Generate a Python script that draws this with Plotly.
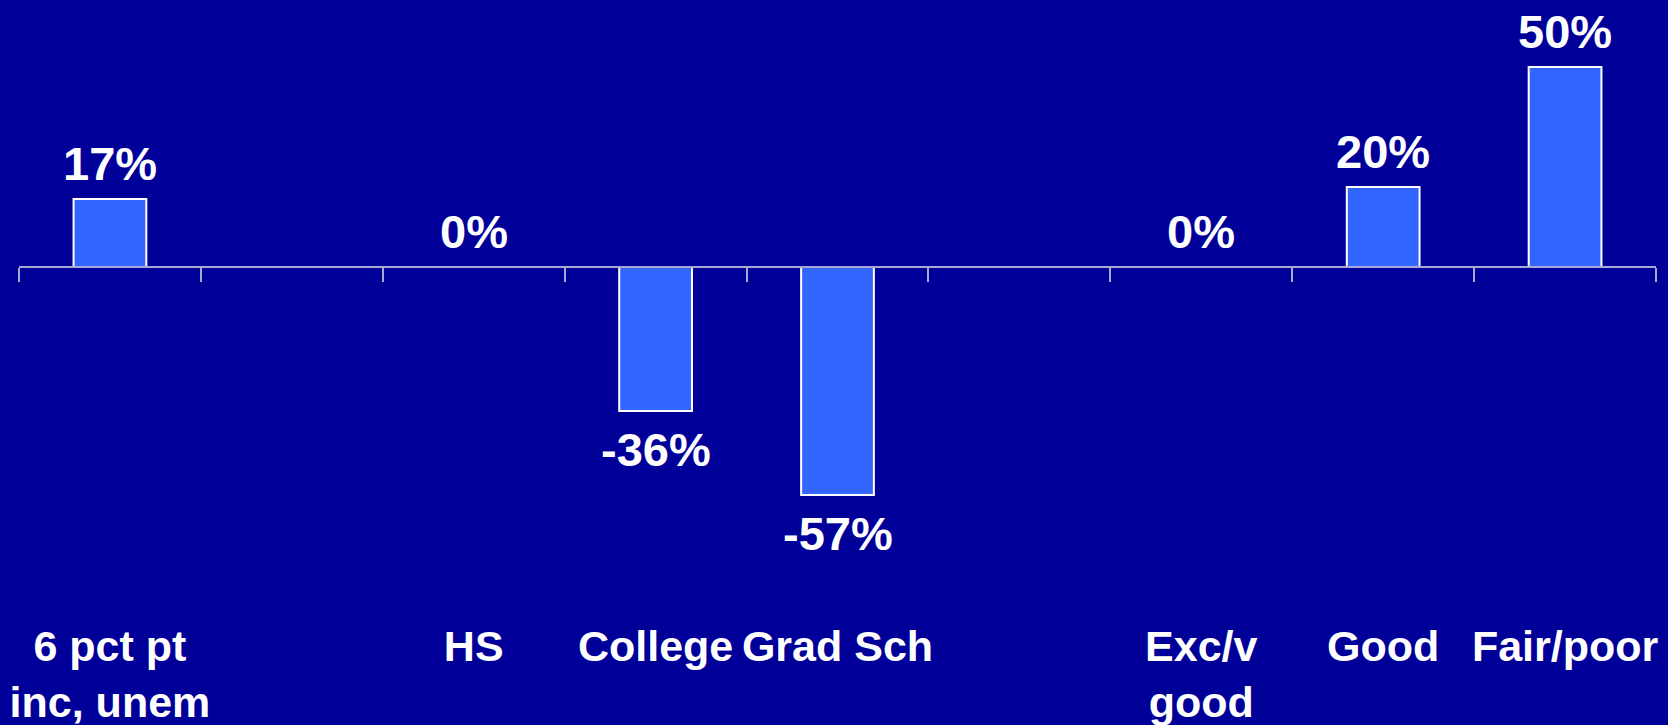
import plotly.graph_objects as go

# Change in outcome by group (percent)
categories = ["6 pct pt<br>inc, unem", "", "HS", "College", "Grad Sch", "", "Exc/v<br>good", "Good", "Fair/poor"]
values = [17, None, 0, -36, -57, None, 0, 20, 50]
value_labels = ["17%", "", "0%", "-36%", "-57%", "", "0%", "20%", "50%"]

positions = list(range(len(categories)))
boundaries = [p - 0.5 for p in positions] + [positions[-1] + 0.5]

BG = "#000099"
BAR = "#3366FF"
AXIS = "#A8A8D8"
FONT = "Liberation Sans, Arial, sans-serif"

W, H = 1668, 725
plot_bottom = 617          # pixel row of the plot-area bottom
zero_row = 267             # pixel row of the zero line
px_per_pct = 4.0
y_top = zero_row / px_per_pct
y_bottom = -(plot_bottom - zero_row) / px_per_pct

line_widths = [0 if (v is None or v == 0) else 2 for v in values]

fig = go.Figure()
fig.add_trace(go.Bar(
    x=positions,
    y=values,
    width=0.4,
    marker=dict(color=BAR, line=dict(color="white", width=line_widths)),
    cliponaxis=False,
    hoverinfo="skip",
))

# value labels just beyond the end of each bar
for pos, val, lab in zip(positions, values, value_labels):
    if val is None:
        continue
    above = val >= 0
    fig.add_annotation(
        x=pos, y=val, xref="x", yref="y",
        text=lab, showarrow=False,
        yanchor="bottom" if above else "top",
        yshift=7 if above else -10,
        font=dict(family=FONT, size=47, color="white", weight="bold"),
    )

fig.update_layout(
    width=W, height=H,
    margin=dict(l=19, r=12, t=0, b=H - plot_bottom),
    paper_bgcolor=BG, plot_bgcolor=BG,
    showlegend=False,
    font=dict(family=FONT, color="white", weight="bold"),
    xaxis=dict(
        range=[-0.5, 8.5],
        tickmode="array", tickvals=positions, ticktext=categories,
        tickfont=dict(family=FONT, size=43, color="white", weight="bold"),
        showline=False, showgrid=False, zeroline=False, ticks="",
        automargin=False, fixedrange=True,
    ),
    xaxis2=dict(
        overlaying="x", anchor="free",
        position=(plot_bottom - zero_row) / plot_bottom,
        range=[-0.5, 8.5],
        tickmode="array", tickvals=boundaries, ticktext=[""] * len(boundaries),
        ticks="outside", ticklen=14, tickwidth=1.5, tickcolor=AXIS,
        showline=True, linecolor=AXIS, linewidth=1.5,
        showgrid=False, zeroline=False, showticklabels=False,
        automargin=False, fixedrange=True,
    ),
    yaxis=dict(
        range=[y_bottom, y_top],
        visible=False, showgrid=False, zeroline=False,
        automargin=False, fixedrange=True,
    ),
    bargap=0.6,
)

# invisible trace bound to the boundary axis so it is rendered
fig.add_trace(go.Scatter(x=[-0.5], y=[0], xaxis="x2", mode="markers",
                         marker=dict(opacity=0), hoverinfo="skip", showlegend=False))

fig.write_html("out.html", config=dict(displayModeBar=False))
